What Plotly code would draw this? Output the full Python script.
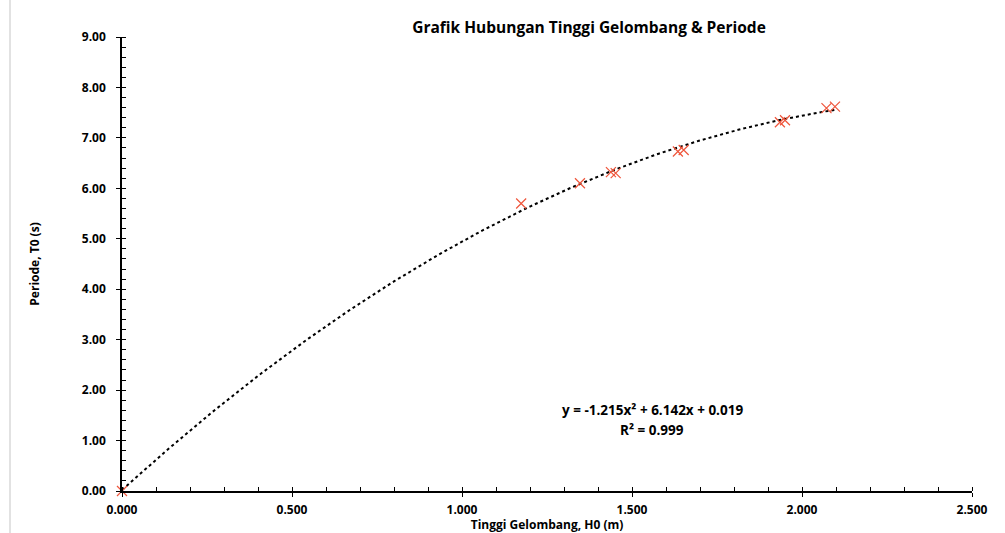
import numpy as np
import plotly.graph_objects as go

# Data
H0 = [0.000, 1.174, 1.347, 1.438, 1.452, 1.635, 1.652, 1.935, 1.950, 2.072, 2.097]
T0 = [0.00, 5.70, 6.10, 6.32, 6.30, 6.73, 6.76, 7.31, 7.35, 7.59, 7.62]

# Polynomial trendline coefficients shown on the chart (a*x^2 + b*x + c)
trend_coef = [-1.215, 6.142, 0.019]

title_text = "Grafik Hubungan Tinggi Gelombang & Periode"
x_title = "Tinggi Gelombang, H0 (m)"
y_title = "Periode, T0 (s)"
eq_line1 = "y = -1.215x² + 6.142x + 0.019"
eq_line2 = "R² = 0.999"

FONT = "'Open Sans', 'DejaVu Sans', sans-serif"

xt = np.linspace(min(H0), max(H0), 200)
yt = np.polyval(trend_coef, xt)

fig = go.Figure()
fig.add_trace(go.Scatter(
    x=xt, y=yt, mode="lines",
    line=dict(color="#000000", width=2, dash="dot"),
    hoverinfo="skip", showlegend=False,
))
fig.add_trace(go.Scatter(
    x=H0, y=T0, mode="markers",
    marker=dict(symbol="x-thin-open", size=10,
                line=dict(color="rgba(255,40,40,0.75)", width=1.2)),
    cliponaxis=False, showlegend=False,
))

axis_common = dict(
    showgrid=False, zeroline=False, showline=True, automargin=False,
    linecolor="#000000", linewidth=1.5, mirror=False,
    ticks="outside", ticklen=4, tickwidth=1.2, tickcolor="#000000",
    tickfont=dict(family=FONT, size=12, color="#000000", weight="bold"),
)

fig.update_layout(
    width=1005, height=533,
    margin=dict(l=122, r=33, t=37, b=42),
    paper_bgcolor="white", plot_bgcolor="white",
    font=dict(family=FONT, color="#000000"),
    title=dict(text="<b>" + title_text + "</b>", x=589 / 1005, xanchor="center",
               y=1 - 28 / 533, yanchor="middle",
               font=dict(family=FONT, size=15.5, color="#000000")),
    xaxis=dict(
        range=[0, 2.5], tick0=0, dtick=0.5, tickformat=".3f",
        ticklabelstandoff=3,
        minor=dict(dtick=0.1, ticks="inside", ticklen=4, tickcolor="#000000", tickwidth=1),
        title=dict(text="<b>" + x_title + "</b>", standoff=1,
                   font=dict(family=FONT, size=12, color="#000000")),
        **axis_common,
    ),
    yaxis=dict(
        range=[0, 9], tick0=0, dtick=1, tickformat=".2f",
        ticklabelstandoff=8,
        minor=dict(dtick=0.2, ticks="inside", ticklen=4, tickcolor="#000000", tickwidth=1),
        title=dict(text="<b>" + y_title + "</b>", standoff=40,
                   font=dict(family=FONT, size=12, color="#000000")),
        **axis_common,
    ),
    xaxis2=dict(range=[0, 2.5], overlaying="x", matches="x", showticklabels=False,
                ticks="inside", ticklen=4, tickwidth=1.2, tickcolor="#000000",
                tick0=0, dtick=0.5, showgrid=False, zeroline=False, showline=False),
    yaxis2=dict(range=[0, 9], overlaying="y", matches="y", showticklabels=False,
                ticks="inside", ticklen=4, tickwidth=1.2, tickcolor="#000000",
                tick0=0, dtick=1, showgrid=False, zeroline=False, showline=False),
    annotations=[
        dict(x=1.56, y=1.61, xref="x", yref="y", text="<b>" + eq_line1 + "</b>",
             showarrow=False, align="center",
             font=dict(family=FONT, size=13.5, color="#000000")),
        dict(x=1.56, y=1.21, xref="x", yref="y", text="<b>" + eq_line2 + "</b>",
             showarrow=False, align="center",
             font=dict(family=FONT, size=13.5, color="#000000")),
    ],
    shapes=[dict(type="line", xref="paper", yref="paper",
                 x0=(10 - 122) / 850, x1=(10 - 122) / 850, y0=-42 / 454, y1=1 + 37 / 454,
                 line=dict(color="#d9d9d9", width=1.5))],
)
# invisible trace to activate the overlay axes (crossing major ticks)
fig.add_trace(go.Scatter(x=[0], y=[0], xaxis="x2", yaxis="y2", mode="markers",
                         marker=dict(opacity=0), hoverinfo="skip", showlegend=False))

fig.write_html("out.html")
